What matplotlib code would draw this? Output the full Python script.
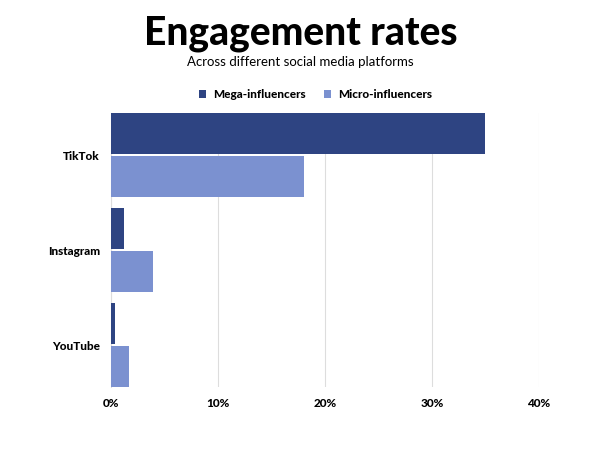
import numpy as np
import matplotlib
matplotlib.use("Agg")
import matplotlib.pyplot as plt

platforms = ["TikTok", "Instagram", "YouTube"]
mega_rates = [35.0, 1.2, 0.4]
micro_rates = [18.0, 3.9, 1.7]
x_ticks = [0, 10, 20, 30, 40]

MEGA_COLOR = "#2E4482"
MICRO_COLOR = "#7B91D0"

plt.rcParams["font.family"] = ["Lato", "DejaVu Sans"]

fig = plt.figure(figsize=(6.01, 4.51), dpi=100)
ax = fig.add_axes([0.1847, 0.1419, 0.7121, 0.6075])

y = np.arange(len(platforms))
h = 0.43
ax.barh(y - h / 2 - 0.01, mega_rates, height=h, color=MEGA_COLOR,
        label="Mega-influencers", zorder=3)
ax.barh(y + h / 2 + 0.01, micro_rates, height=h, color=MICRO_COLOR,
        label="Micro-influencers", zorder=3)

ax.set_xlim(0, 40)
ax.set_ylim(2.442, -0.442)
ax.set_xticks(x_ticks)
ax.set_xticklabels([f"{t}%" for t in x_ticks], fontsize=8.5, fontweight="black")
ax.set_yticks(y)
ax.set_yticklabels(platforms, fontsize=8.5, fontweight="black")
ax.tick_params(length=0, pad=8)
ax.grid(axis="x", color="#DDDDDD", linewidth=0.8, zorder=0)
for s in ["top", "right", "bottom"]:
    ax.spines[s].set_visible(False)
ax.spines["left"].set_color("#DDDDDD")

fig.text(0.5, 0.926, "Engagement rates", ha="center", va="center",
         fontsize=28, fontweight="black")
fig.text(0.5, 0.862, "Across different social media platforms", ha="center",
         va="center", fontsize=9.5)
fig.legend(loc="center", bbox_to_anchor=(0.525, 0.79), ncol=2, frameon=False,
           prop={"weight": "black", "size": 8.5}, handlelength=0.6,
           handleheight=0.6, columnspacing=1.6, handletextpad=0.6)

fig.savefig("out.png", dpi=100)
